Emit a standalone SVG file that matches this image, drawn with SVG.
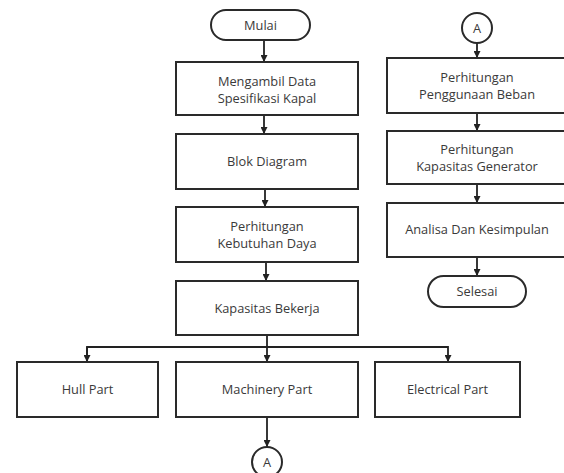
<svg xmlns="http://www.w3.org/2000/svg" width="564" height="473" viewBox="0 0 564 473">
<defs>
<marker id="ah" viewBox="0 0 10 10" refX="10" refY="5" markerWidth="7" markerHeight="7" markerUnits="userSpaceOnUse" orient="auto">
<path d="M0,0 L10,5 L0,10 z" fill="#222"/>
</marker>
<style>
.n{fill:#fff;stroke:#2a2a2a;stroke-width:2}
.t{font-family:"Open Sans","Liberation Sans",Arial,sans-serif;font-size:12.8px;fill:#3a3a3a;text-anchor:middle}
.c{fill:none;stroke:#222;stroke-width:1.8}
</style>
</defs>
<rect width="564" height="473" fill="#fff"/>
<g id="connectors">
<path class="c" d="M264,40 V62" marker-end="url(#ah)"/>
<path class="c" d="M264,115 V134" marker-end="url(#ah)"/>
<path class="c" d="M265,189 V207" marker-end="url(#ah)"/>
<path class="c" d="M266,262 V281" marker-end="url(#ah)"/>
<path class="c" d="M267,335 V362" marker-end="url(#ah)"/>
<path class="c" d="M87,362 V347 H448 V362" marker-end="url(#ah)"/>
<path class="c" d="M87,347 V362" marker-end="url(#ah)"/>
<path class="c" d="M267,417 V447" marker-end="url(#ah)"/>
<path class="c" d="M477,43 V58" marker-end="url(#ah)"/>
<path class="c" d="M477,113 V131" marker-end="url(#ah)"/>
<path class="c" d="M477,184 V203" marker-end="url(#ah)"/>
<path class="c" d="M477,257 V276" marker-end="url(#ah)"/>
</g>
<g id="mulai"><rect class="n" x="211" y="10" width="99" height="30" rx="15"/><text class="t" x="260.5" y="30">Mulai</text></g>
<g id="mengambil"><rect class="n" x="176" y="62" width="182" height="53"/><text class="t" x="267" y="86">Mengambil Data</text><text class="t" x="267" y="103">Spesifikasi Kapal</text></g>
<g id="blok"><rect class="n" x="176" y="134" width="182" height="55"/><text class="t" x="267" y="166">Blok Diagram</text></g>
<g id="kebutuhan"><rect class="n" x="176" y="207" width="182" height="55"/><text class="t" x="267" y="231">Perhitungan</text><text class="t" x="267" y="248">Kebutuhan Daya</text></g>
<g id="kapasitas"><rect class="n" x="176" y="281" width="182" height="54"/><text class="t" x="267" y="313">Kapasitas Bekerja</text></g>
<g id="hull"><rect class="n" x="17" y="362" width="141" height="55"/><text class="t" x="87.5" y="394">Hull Part</text></g>
<g id="machinery"><rect class="n" x="176" y="362" width="182" height="55"/><text class="t" x="267" y="394">Machinery Part</text></g>
<g id="electrical"><rect class="n" x="375" y="362" width="145" height="55"/><text class="t" x="447.5" y="394">Electrical Part</text></g>
<g id="a-bottom"><circle class="n" cx="267" cy="462" r="15"/><text class="t" x="267" y="466.5">A</text></g>
<g id="a-top"><circle class="n" cx="477" cy="28" r="15"/><text class="t" x="477" y="32.5">A</text></g>
<g id="beban"><rect class="n" x="387" y="58" width="180" height="55"/><text class="t" x="477" y="82">Perhitungan</text><text class="t" x="477" y="99">Penggunaan Beban</text></g>
<g id="generator"><rect class="n" x="387" y="131" width="180" height="53"/><text class="t" x="477" y="154">Perhitungan</text><text class="t" x="477" y="171">Kapasitas Generator</text></g>
<g id="analisa"><rect class="n" x="387" y="203" width="180" height="54"/><text class="t" x="477" y="234">Analisa Dan Kesimpulan</text></g>
<g id="selesai"><rect class="n" x="428" y="276" width="98" height="31" rx="15.5"/><text class="t" x="477" y="296">Selesai</text></g>
</svg>
